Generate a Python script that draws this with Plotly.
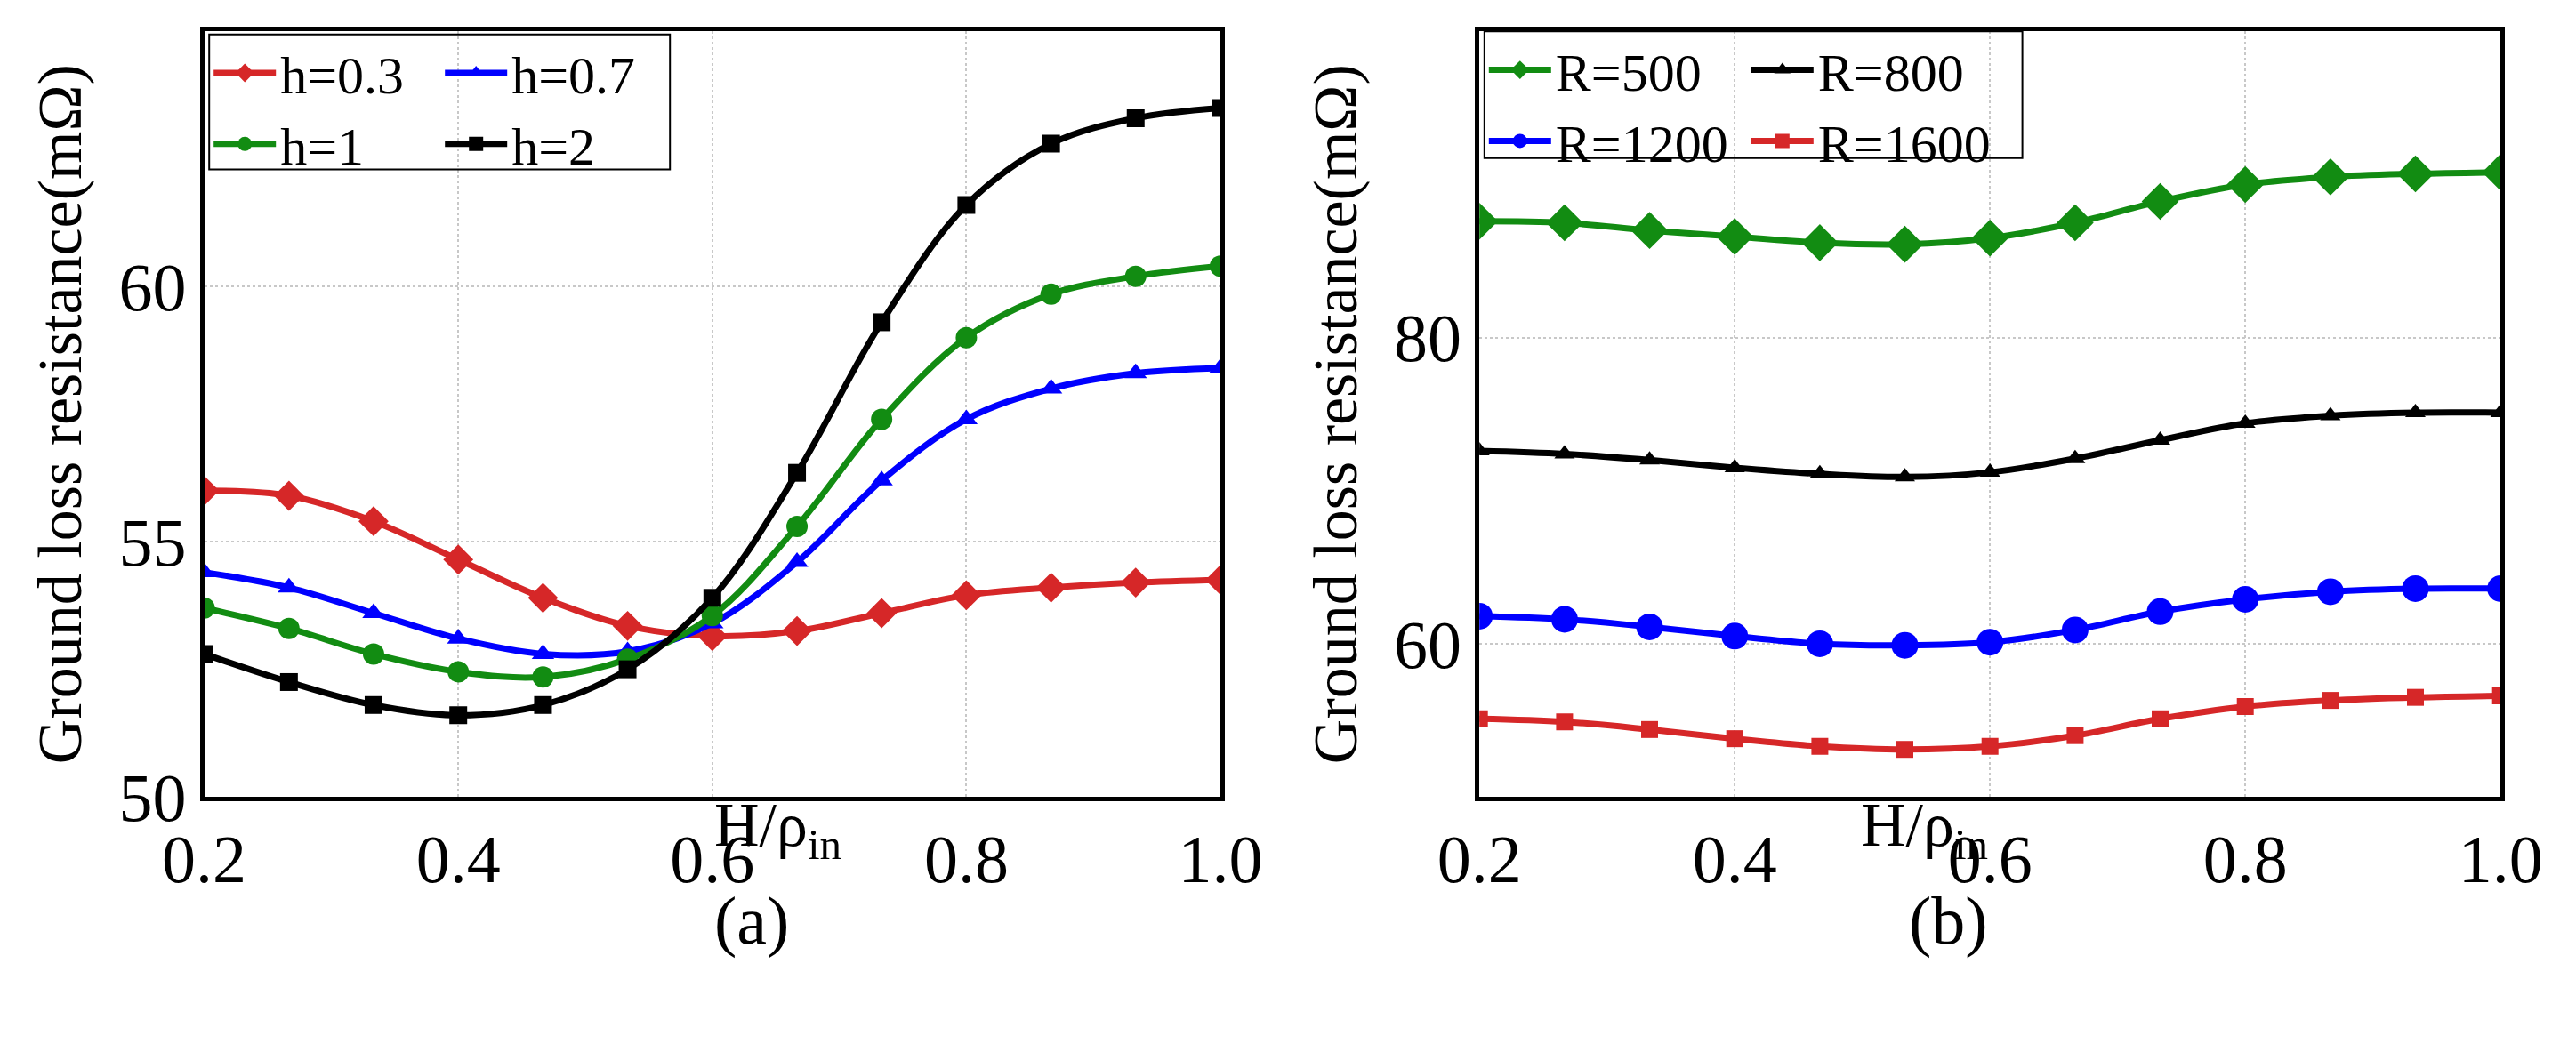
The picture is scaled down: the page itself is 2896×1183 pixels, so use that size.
import plotly.graph_objects as go

x = [0.2, 0.2667, 0.3333, 0.4, 0.4667, 0.5333, 0.6, 0.6667, 0.7333, 0.8, 0.8667, 0.9333, 1.0]
h03 = [56.0, 55.9, 55.4, 54.65, 53.9, 53.35, 53.15, 53.25, 53.6, 53.95, 54.1, 54.2, 54.25]
h07 = [54.4, 54.1, 53.6, 53.1, 52.8, 52.85, 53.4, 54.6, 56.2, 57.4, 58.0, 58.3, 58.4]
h1 = [53.7, 53.3, 52.8, 52.45, 52.35, 52.7, 53.55, 55.3, 57.4, 59.0, 59.85, 60.2, 60.4]
h2 = [52.8, 52.25, 51.8, 51.6, 51.8, 52.5, 53.9, 56.35, 59.3, 61.6, 62.8, 63.3, 63.5]
r500 = [87.6, 87.5, 87.0, 86.6, 86.2, 86.1, 86.5, 87.5, 88.9, 90.0, 90.5, 90.7, 90.8]
r800 = [72.6, 72.4, 72.0, 71.5, 71.1, 70.9, 71.2, 72.1, 73.3, 74.4, 74.9, 75.1, 75.1]
r1200 = [61.8, 61.6, 61.1, 60.5, 60.0, 59.9, 60.1, 60.9, 62.1, 62.9, 63.4, 63.6, 63.6]
r1600 = [55.1, 54.9, 54.4, 53.8, 53.3, 53.1, 53.3, 54.0, 55.1, 55.9, 56.3, 56.5, 56.6]

RED, BLUE, GREEN, BLACK = "#d62728", "#0000ff", "#128c12", "#000000"
FONT = "Liberation Serif"

fig = go.Figure()
def add(y, name, color, sym, xa, ya, leg, size=24):
    fig.add_trace(go.Scatter(x=x, y=y, name=name, mode="lines+markers",
        line=dict(color=color, width=7, shape="spline"),
        marker=dict(symbol=sym, size=size, color=color),
        xaxis=xa, yaxis=ya, legend=leg))

add(h03, "h=0.3", RED, "diamond", "x", "y", "legend", 26)
add(h07, "h=0.7", BLUE, "triangle-up", "x", "y", "legend", 22)
add(h1, "h=1", GREEN, "circle", "x", "y", "legend2", 24)
add(h2, "h=2", BLACK, "square", "x", "y", "legend2", 20)
add(r500, "R=500", GREEN, "diamond", "x2", "y2", "legend3", 32)
add(r800, "R=800", BLACK, "triangle-up", "x2", "y2", "legend3", 20)
add(r1200, "R=1200", BLUE, "circle", "x2", "y2", "legend4", 30)
add(r1600, "R=1600", RED, "square", "x2", "y2", "legend4", 19)

ax = dict(showline=True, linecolor="black", linewidth=5, mirror=True, ticks="",
          showgrid=True, gridcolor="#c8c8c8", griddash="dot", gridwidth=2,
          tickfont=dict(family=FONT, size=76, color="black"), zeroline=False)
def leg(xp, yp, ew):
    return dict(x=xp, y=yp, xanchor="left", yanchor="top", orientation="h",
                entrywidth=ew, entrywidthmode="pixels", borderwidth=0,
                font=dict(family=FONT, size=60), bgcolor="rgba(0,0,0,0)", itemwidth=70,
                tracegroupgap=0)
ytitle = dict(text="Ground loss resistance(mΩ)", font=dict(size=70), standoff=20)
fig.update_layout(
    width=2896, height=1183, paper_bgcolor="white", plot_bgcolor="white",
    margin=dict(l=0, r=0, t=0, b=0), font=dict(family=FONT, color="black"),
    xaxis=dict(ax, domain=[0.062, 0.470], range=[0.2, 1.0], dtick=0.2, tickformat=".1f"),
    yaxis=dict(ax, domain=[0.221, 0.976], range=[50, 65], dtick=5, title=ytitle),
    xaxis2=dict(ax, domain=[0.574, 0.984], range=[0.2, 1.0], dtick=0.2, tickformat=".1f"),
    yaxis2=dict(ax, domain=[0.221, 0.976], range=[50, 100], tickvals=[60, 80, 100],
                anchor="x2", title=ytitle),
    legend=leg(0.064, 0.975, 175),
    legend2=leg(0.064, 0.905, 175),
    legend3=leg(0.576, 0.978, 210),
    legend4=leg(0.576, 0.908, 210),
)
fig.add_shape(type="rect", xref="paper", yref="paper", x0=0.064, x1=0.249, y0=0.840, y1=0.973,
              line=dict(color="black", width=2))
fig.add_shape(type="rect", xref="paper", yref="paper", x0=0.576, x1=0.792, y0=0.851, y1=0.976,
              line=dict(color="black", width=2))
for xc, lab in [(0.266, "(a)"), (0.779, "(b)")]:
    fig.add_annotation(text="H/ρ<sub>in</sub>", xref="paper", yref="paper", x=xc, y=0.148,
                       showarrow=False, font=dict(family=FONT, size=70))
    fig.add_annotation(text=lab, xref="paper", yref="paper", x=xc, y=0.06, showarrow=False,
                       font=dict(family=FONT, size=76))
fig.write_html("out.html")
